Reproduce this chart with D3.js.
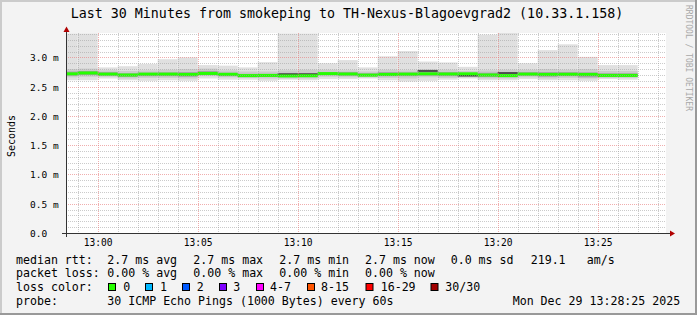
<!DOCTYPE html>
<html>
<head>
<meta charset="utf-8">
<script src="https://cdn.jsdelivr.net/npm/d3@7"></script>
<style>
  body { margin: 0; background: #f3f3f3; }
  svg { display: block; }
  text { font-family: "DejaVu Sans Mono", monospace; fill: #000; }
</style>
</head>
<body>
<div id="chart"></div>
<script>
// one bar per minute (start time), values in ms
const barStart = ["12:58","12:59","13:00","13:01","13:02","13:03","13:04","13:05","13:06","13:07",
                  "13:08","13:09","13:10","13:11","13:12","13:13","13:14","13:15","13:16","13:17",
                  "13:18","13:19","13:20","13:21","13:22","13:23","13:24","13:25","13:26"];
const pingMax = [3.41, 3.41, 2.83, 2.85, 2.89, 2.97, 3.00, 2.87, 2.86, 2.83,
                 2.92, 3.41, 3.41, 2.90, 2.955, 2.83, 3.02, 3.11, 2.93, 2.915,
                 2.84, 3.39, 3.42, 2.90, 3.125, 3.225, 3.01, 2.87, 2.87];
const ping90 = [2.80, 2.81, 2.78, 2.77, 2.78, 2.79, 2.80, 2.81, 2.78, 2.76,
                2.76, 2.78, 2.79, 2.79, 2.78, 2.76, 2.79, 2.78, 2.80, 2.79,
                2.77, 2.78, 2.79, 2.79, 2.80, 2.79, 2.80, 2.77, 2.77];
const ping75 = [2.76, 2.77, 2.75, 2.73, 2.74, 2.745, 2.75, 2.77, 2.74, 2.72,
                2.72, 2.735, 2.735, 2.75, 2.75, 2.73, 2.75, 2.745, 2.775, 2.75,
                2.74, 2.74, 2.745, 2.75, 2.75, 2.75, 2.745, 2.73, 2.73];
const median = [2.72, 2.735, 2.715, 2.70, 2.715, 2.715, 2.71, 2.727, 2.712, 2.69,
                2.693, 2.685, 2.688, 2.724, 2.717, 2.698, 2.71, 2.715, 2.72, 2.717,
                2.72, 2.70, 2.69, 2.715, 2.71, 2.712, 2.71, 2.693, 2.693];
const ping25 = [2.69, 2.70, 2.69, 2.67, 2.68, 2.68, 2.67, 2.70, 2.68, 2.665,
                2.67, 2.665, 2.665, 2.70, 2.69, 2.68, 2.68, 2.68, 2.69, 2.68,
                2.675, 2.665, 2.665, 2.69, 2.67, 2.68, 2.66, 2.67, 2.67];
const ping10 = [2.66, 2.67, 2.67, 2.64, 2.65, 2.65, 2.64, 2.68, 2.66, 2.65,
                2.64, 2.64, 2.64, 2.67, 2.66, 2.66, 2.65, 2.64, 2.66, 2.65,
                2.66, 2.64, 2.64, 2.66, 2.64, 2.65, 2.64, 2.65, 2.65];
const pingMin = [2.61, 2.61, 2.64, 2.61, 2.60, 2.61, 2.60, 2.64, 2.62, 2.62,
                 2.60, 2.62, 2.61, 2.63, 2.63, 2.64, 2.61, 2.59, 2.60, 2.62,
                 2.64, 2.61, 2.61, 2.63, 2.61, 2.61, 2.60, 2.63, 2.62];
// dark streaks of dense pings (null where none)
const denseLine = [null, null, null, null, null, null, null, null, null, null,
                   null, 2.71, 2.71, null, null, null, null, null, 2.765, null,
                   2.685, null, 2.73, null, null, null, null, null, null];

const yTickVals = [0, 0.5, 1.0, 1.5, 2.0, 2.5, 3.0];
const yTickLabels = ["0.0", "0.5 m", "1.0 m", "1.5 m", "2.0 m", "2.5 m", "3.0 m"];
const xTickLabels = ["13:00", "13:05", "13:10", "13:15", "13:20", "13:25"];

const lossLabels = ["0", "1", "2", "3", "4-7", "8-15", "16-29", "30/30"];
const lossColors = ["#26ff00", "#00b8ff", "#0059ff", "#7e00ff", "#ff00ff", "#ff5500", "#ff0000", "#a10000"];

const W = 697, H = 315;
const plot = { left: 66, right: 666, top: 33, bottom: 233 };

const parseHM = d3.timeParse("%H:%M");
const parseHMS = d3.timeParse("%H:%M:%S");

const x = d3.scaleTime()
  .domain([parseHMS("12:58:25"), parseHMS("13:28:25")])
  .range([plot.left, plot.right]);
const y = d3.scaleLinear()
  .domain([0, 3.418])
  .range([plot.bottom, plot.top]);

const svg = d3.select("#chart").append("svg")
  .attr("width", W)
  .attr("height", H);

svg.append("rect").attr("width", W).attr("height", H).attr("fill", "#f3f3f3");
// bevel frame
svg.append("rect").attr("x", 0).attr("y", 0).attr("width", W).attr("height", 2).attr("fill", "#cbcbcb");
svg.append("rect").attr("x", 0).attr("y", 0).attr("width", 2).attr("height", H).attr("fill", "#cbcbcb");
svg.append("rect").attr("x", 0).attr("y", H - 2).attr("width", W).attr("height", 2).attr("fill", "#999");
svg.append("rect").attr("x", W - 2).attr("y", 0).attr("width", 2).attr("height", H).attr("fill", "#999");

svg.append("rect")
  .attr("x", plot.left).attr("y", plot.top)
  .attr("width", plot.right - plot.left).attr("height", plot.bottom - plot.top)
  .attr("fill", "#fff");

svg.append("clipPath").attr("id", "plotclip")
  .append("rect")
  .attr("x", plot.left).attr("y", plot.top)
  .attr("width", plot.right - plot.left).attr("height", plot.bottom - plot.top);

const bars = barStart.map((s, i) => {
  const t = parseHM(s);
  return {
    t0: t, t1: d3.timeMinute.offset(t, 1),
    max: pingMax[i], p90: ping90[i], p75: ping75[i], med: median[i],
    p25: ping25[i], p10: ping10[i], min: pingMin[i], dense: denseLine[i]
  };
});

const data = svg.append("g").attr("clip-path", "url(#plotclip)");

// smoke layers, outer to inner
const layers = [
  { lo: "min", hi: "max", color: "#e0e0e0" },
  { lo: "p10", hi: "p90", color: "#cbcbcb" },
  { lo: "p25", hi: "p75", color: "#a4a4a4" }
];
layers.forEach(l => {
  data.selectAll(null)
    .data(bars)
    .enter()
    .append("rect")
    .attr("x", d => x(d.t0))
    .attr("width", d => x(d.t1) - x(d.t0))
    .attr("y", d => y(d[l.hi]))
    .attr("height", d => y(d[l.lo]) - y(d[l.hi]))
    .attr("fill", l.color);
});

data.selectAll(null)
  .data(bars.filter(d => d.dense !== null))
  .enter()
  .append("rect")
  .attr("x", d => x(d.t0))
  .attr("width", d => x(d.t1) - x(d.t0))
  .attr("y", d => y(d.dense) - 1)
  .attr("height", 1.5)
  .attr("fill", "#333");

// median band
data.selectAll(null)
  .data(bars)
  .enter()
  .append("rect")
  .attr("x", d => x(d.t0))
  .attr("width", d => x(d.t1) - x(d.t0))
  .attr("y", d => y(d.med) - 1.5)
  .attr("height", 3)
  .attr("fill", lossColors[0]);

// grid
const grid = svg.append("g");
const minorY = d3.range(1, 35).map(k => k / 10).filter(v => Math.round(v * 10) % 5 !== 0);
grid.selectAll(null).data(minorY).enter().append("line")
  .attr("x1", plot.left).attr("x2", plot.right)
  .attr("y1", d => Math.round(y(d)) + 0.5).attr("y2", d => Math.round(y(d)) + 0.5)
  .attr("stroke", "rgba(160,160,160,0.55)").attr("stroke-dasharray", "1,1");
const minorX = x.ticks(d3.timeMinute.every(1)).filter(t => t.getMinutes() % 5 !== 0);
grid.selectAll(null).data(minorX).enter().append("line")
  .attr("y1", plot.top).attr("y2", plot.bottom)
  .attr("x1", d => Math.round(x(d)) + 0.5).attr("x2", d => Math.round(x(d)) + 0.5)
  .attr("stroke", "rgba(160,160,160,0.55)").attr("stroke-dasharray", "1,1");
grid.selectAll(null).data(yTickVals.slice(1)).enter().append("line")
  .attr("x1", plot.left).attr("x2", plot.right)
  .attr("y1", d => Math.round(y(d)) + 0.5).attr("y2", d => Math.round(y(d)) + 0.5)
  .attr("stroke", "rgba(230,120,120,0.6)").attr("stroke-dasharray", "1,1");
const majorX = x.ticks(d3.timeMinute.every(5));
grid.selectAll(null).data(majorX).enter().append("line")
  .attr("y1", plot.top).attr("y2", plot.bottom)
  .attr("x1", d => Math.round(x(d)) + 0.5).attr("x2", d => Math.round(x(d)) + 0.5)
  .attr("stroke", "rgba(230,120,120,0.6)").attr("stroke-dasharray", "1,1");

// axes lines + arrows
svg.append("line").attr("x1", 62).attr("x2", 671).attr("y1", 233.5).attr("y2", 233.5).attr("stroke", "#333");
svg.append("line").attr("x1", 66.5).attr("x2", 66.5).attr("y1", 237).attr("y2", 29).attr("stroke", "#333");
svg.append("path").attr("d", "M670,230.5 L675,233.5 L670,236.5 Z").attr("fill", "#b00000");
svg.append("path").attr("d", "M63.5,32 L66.5,26.5 L69.5,32 Z").attr("fill", "#b00000");

// y tick labels
const yAxis = svg.append("g")
  .attr("transform", `translate(${plot.left},0)`)
  .call(d3.axisLeft(y).tickValues(yTickVals).tickFormat((d, i) => yTickLabels[i]).tickSize(0));
yAxis.select(".domain").remove();
yAxis.selectAll("text")
  .attr("text-anchor", "start")
  .attr("x", -36)
  .attr("dy", "0.35em")
  .style("font-family", "'DejaVu Sans Mono', monospace")
  .style("font-size", "9.5px")
  .attr("fill", "#000");

// x tick labels
const xAxis = svg.append("g")
  .attr("transform", `translate(0,${plot.bottom})`)
  .call(d3.axisBottom(x).tickValues(majorX).tickFormat((d, i) => xTickLabels[i]).tickSize(0));
xAxis.select(".domain").remove();
xAxis.selectAll("text")
  .attr("y", 13)
  .attr("dy", 0)
  .style("font-family", "'DejaVu Sans Mono', monospace")
  .style("font-size", "9.6px")
  .attr("fill", "#000");

// titles
svg.append("text")
  .attr("x", 347).attr("y", 18)
  .attr("text-anchor", "middle")
  .style("font-size", "13.3px")
  .text("Last 30 Minutes from smokeping to TH-Nexus-Blagoevgrad2 (10.33.1.158)");

svg.append("text")
  .attr("transform", "translate(15,136) rotate(-90)")
  .attr("text-anchor", "middle")
  .style("font-size", "10px")
  .text("Seconds");

svg.append("text")
  .attr("transform", "translate(686,5) rotate(90)")
  .style("font-size", "8px")
  .style("fill", "#a8a8a8")
  .text("RRDTOOL / TOBI OETIKER");

// legend
const legendRows = [
  { y: 264, items: [[16, "median rtt:"], [107.3, "2.7 ms avg"], [193.3, "2.7 ms max"], [279.3, "2.7 ms min"],
                    [365, "2.7 ms now"], [450.7, "0.0 ms sd"], [530.7, "219.1"], [586.7, "am/s"]] },
  { y: 277, items: [[16, "packet loss:"], [107.3, "0.00 % avg"], [193.3, "0.00 % max"], [279.3, "0.00 % min"],
                    [365, "0.00 % now"]] },
  { y: 291, items: [[16, "loss color:"]] },
  { y: 304.5, items: [[16, "probe:"], [107.3, "30 ICMP Echo Pings (1000 Bytes) every 60s"],
                      [512.7, "Mon Dec 29 13:28:25 2025"]] }
];
const legend = svg.append("g").style("font-size", "11.6px");
legendRows.forEach(r => {
  legend.selectAll(null).data(r.items).enter().append("text")
    .attr("x", d => d[0]).attr("y", r.y)
    .attr("xml:space", "preserve")
    .text(d => d[1]);
});

const boxX = [108.5, 145.5, 182.5, 219.5, 256.5, 307.5, 366, 431];
const lossTextX = [123.3, 160, 196.7, 233.3, 270, 321, 380.7, 445.3];
legend.selectAll(null).data(lossLabels).enter().append("rect")
  .attr("x", (d, i) => boxX[i]).attr("y", 283.5)
  .attr("width", 7).attr("height", 7)
  .attr("fill", (d, i) => lossColors[i])
  .attr("stroke", "#000").attr("stroke-width", 1);
legend.selectAll(null).data(lossLabels).enter().append("text")
  .attr("x", (d, i) => lossTextX[i]).attr("y", 291)
  .text(d => d);
</script>
</body>
</html>
